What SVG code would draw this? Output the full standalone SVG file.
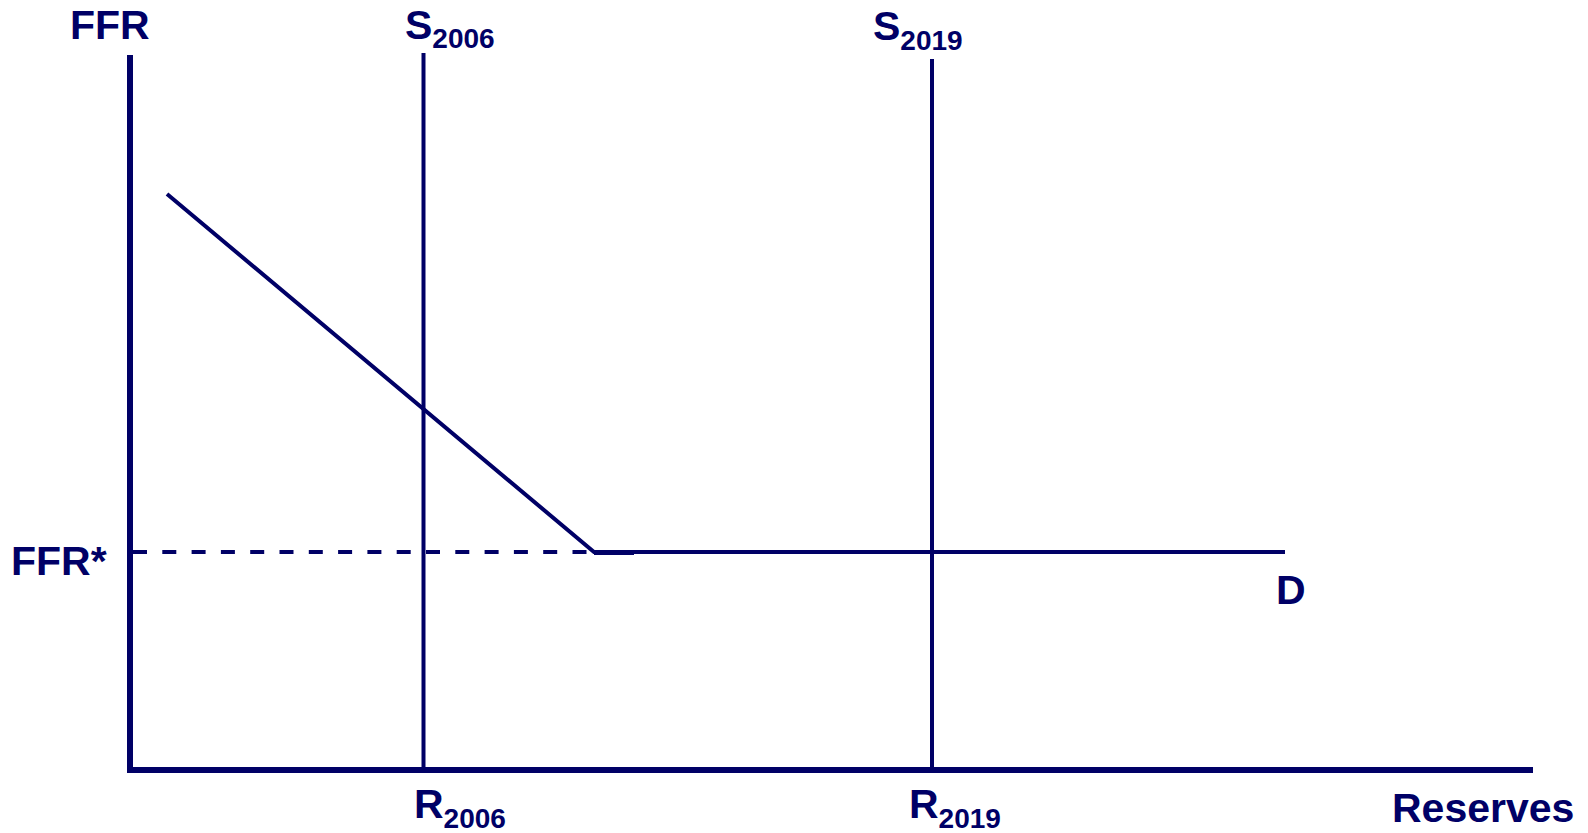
<svg xmlns="http://www.w3.org/2000/svg" width="1588" height="833" viewBox="0 0 1588 833">
<style>
.lbl{font-family:"Liberation Sans",Arial,sans-serif;font-weight:bold;fill:#000066;font-size:41px}
.sub{font-size:28px}
.ln{stroke:#000066;fill:none}
</style>
<rect width="1588" height="833" fill="#ffffff"/>
<g id="connectors">
<g id="axes">
<line class="ln" x1="130" y1="55" x2="130" y2="773" stroke-width="6"/>
<line class="ln" x1="127" y1="770" x2="1533" y2="770" stroke-width="6"/>
</g>
<g id="supply-2006"><line class="ln" x1="423.5" y1="53" x2="423.5" y2="770" stroke-width="4"/></g>
<g id="supply-2019"><line class="ln" x1="932" y1="59" x2="932" y2="773" stroke-width="4"/></g>
<g id="ffr-star-dashed"><line class="ln" x1="133" y1="552" x2="594" y2="552" stroke-width="4" stroke-dasharray="14 15.3"/></g>
<g id="demand">
<polyline class="ln" points="167,194 594,552 1285,552" stroke-width="4"/>
<line class="ln" x1="594" y1="552.5" x2="634" y2="552.5" stroke-width="5"/>
</g>
</g>
<g id="label-ffr"><text class="lbl" x="70" y="39">FFR</text></g>
<g id="label-s2006"><text class="lbl" x="405" y="39">S<tspan class="sub" dy="9">2006</tspan></text></g>
<g id="label-s2019"><text class="lbl" x="873" y="40">S<tspan class="sub" dy="10">2019</tspan></text></g>
<g id="label-ffrstar"><text class="lbl" x="11" y="575">FFR*</text></g>
<g id="label-d"><text class="lbl" x="1276" y="604">D</text></g>
<g id="label-r2006"><text class="lbl" x="414" y="818">R<tspan class="sub" dy="10">2006</tspan></text></g>
<g id="label-r2019"><text class="lbl" x="909" y="818">R<tspan class="sub" dy="10">2019</tspan></text></g>
<g id="label-reserves"><text class="lbl" x="1392" y="822">Reserves</text></g>
</svg>
